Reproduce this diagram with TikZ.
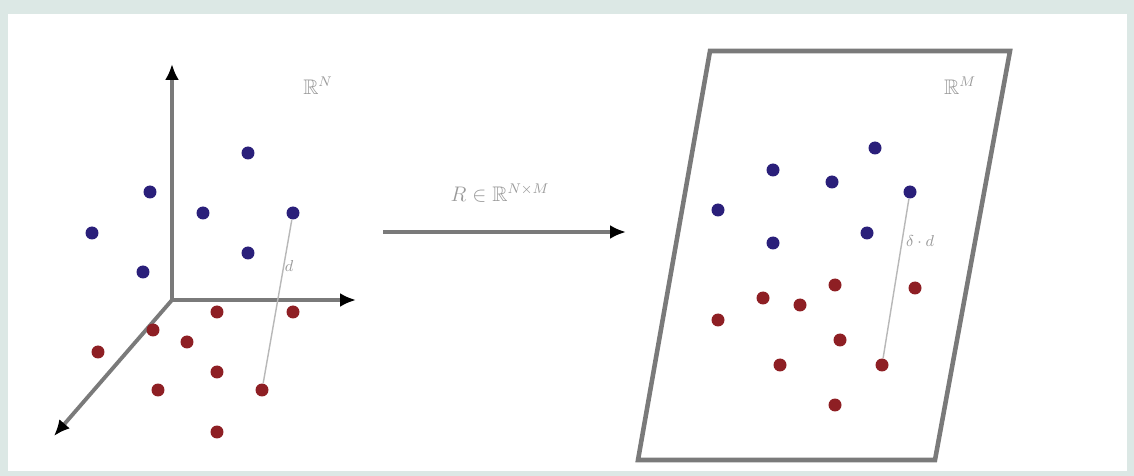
\documentclass[tikz,border=0pt]{standalone}
\usepackage{amsmath,amssymb}
\usetikzlibrary{arrows.meta}
\definecolor{frameg}{HTML}{DCE8E5}
\definecolor{axisg}{HTML}{7A7A7A}
\definecolor{dotb}{HTML}{2A1F7A}
\definecolor{dotr}{HTML}{8E1F24}
\definecolor{labg}{HTML}{9A9A9A}
\tikzset{
  bdot/.style={circle,fill=dotb,draw=none,minimum size=0.26cm,inner sep=0pt},
  rdot/.style={circle,fill=dotr,draw=none,minimum size=0.26cm,inner sep=0pt},
  axisline/.style={draw=axisg,line width=2.2pt,-{Latex[length=3.2mm,width=2.8mm,color=black]}},
  dline/.style={draw=labg!70,line width=0.8pt},
  lab/.style={text=labg,font=\large,inner sep=1pt},
}
\begin{document}
\begin{tikzpicture}[x=0.02cm,y=-0.02cm]
\fill[frameg] (0,0) rectangle (1134,476);
\fill[white] (8,14) rectangle (1127,471);
\useasboundingbox (0,0) rectangle (1134,476);
% axes
\coordinate (O) at (172,300);
\coordinate (ay) at (172,64);
\coordinate (ax) at (356,300);
\coordinate (az) at (54,436);
\draw[axisline] (O) -- (ay);
\draw[axisline] (O) -- (ax);
\draw[axisline] (O) -- (az);
\node[lab] (RN) at (318,86) {$\mathbb{R}^N$};
% left blue
\node[bdot] (lb1) at (248,153) {};
\node[bdot] (lb2) at (150,192) {};
\node[bdot] (lb3) at (203,213) {};
\node[bdot] (lb4) at (293,213) {};
\node[bdot] (lb5) at (92,233) {};
\node[bdot] (lb6) at (248,253) {};
\node[bdot] (lb7) at (143,272) {};
% left red
\node[rdot] (lr1) at (153,330) {};
\node[rdot] (lr2) at (217,312) {};
\node[rdot] (lr3) at (293,312) {};
\node[rdot] (lr4) at (98,352) {};
\node[rdot] (lr5) at (187,342) {};
\node[rdot] (lr6) at (217,372) {};
\node[rdot] (lr7) at (158,390) {};
\node[rdot] (lr8) at (262,390) {};
\node[rdot] (lr9) at (217,432) {};
\draw[dline] (lb4) -- (lr8);
\node[lab,font=\small] (dl) at (289,266) {$d$};
% map arrow
\coordinate (m1) at (383,232);
\coordinate (m2) at (626,232);
\draw[axisline] (m1) -- (m2);
\node[lab] (Rmap) at (500,193) {$R\in\mathbb{R}^{N\times M}$};
% plane
\coordinate (p1) at (710,51);
\coordinate (p2) at (1010,51);
\coordinate (p3) at (935,460);
\coordinate (p4) at (638,460);
\draw[draw=axisg,line width=2.6pt,line join=miter] (p1) -- (p2) -- (p3) -- (p4) -- cycle;
\node[lab] (RM) at (960,86) {$\mathbb{R}^M$};
% right blue
\node[bdot] (rb1) at (875,148) {};
\node[bdot] (rb2) at (773,170) {};
\node[bdot] (rb3) at (832,182) {};
\node[bdot] (rb4) at (910,192) {};
\node[bdot] (rb5) at (718,210) {};
\node[bdot] (rb6) at (773,243) {};
\node[bdot] (rb7) at (867,233) {};
% right red
\node[rdot] (rr1) at (835,285) {};
\node[rdot] (rr2) at (763,298) {};
\node[rdot] (rr3) at (800,305) {};
\node[rdot] (rr4) at (915,288) {};
\node[rdot] (rr5) at (718,320) {};
\node[rdot] (rr6) at (840,340) {};
\node[rdot] (rr7) at (780,365) {};
\node[rdot] (rr8) at (882,365) {};
\node[rdot] (rr9) at (835,405) {};
\draw[dline] (rb4) -- (rr8);
\node[lab,font=\small] (ddl) at (920,241) {$\delta\cdot d$};
\end{tikzpicture}
\end{document}
